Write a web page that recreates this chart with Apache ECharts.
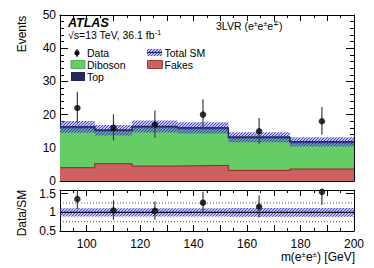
<!DOCTYPE html>
<html><head><meta charset="utf-8">
<script src="https://cdn.jsdelivr.net/npm/echarts@6/dist/echarts.min.js"></script>
<style>html,body{margin:0;padding:0;background:#fff}#c{width:374px;height:268px}</style>
</head><body><div id="c"></div>
<script>
// ---- data ----
const binEdges = [90, 103, 117, 134, 153, 176, 200];
const fakes    = [4.0, 5.2, 4.5, 4.7, 3.2, 3.6];
const diboson  = [11.9, 9.8, 11.5, 10.9, 9.6, 7.8];
const topBkg   = [0.4, 0.3, 0.4, 0.4, 0.4, 0.4];
const smUnc    = [1.8, 1.6, 1.8, 1.7, 1.5, 1.4];
const dataX    = [96.5, 110, 125.5, 143.5, 164.5, 188];
const dataY    = [22, 16, 17, 20, 15, 18];
const dataErrUp   = [4.8, 4.1, 4.2, 4.6, 4.0, 4.3];
const dataErrDown = [4.4, 3.8, 4.0, 4.4, 3.8, 4.1];
const ratioY      = [1.36, 1.05, 1.04, 1.26, 1.15, 1.55];
const ratioErrUp  = [0.29, 0.27, 0.26, 0.29, 0.30, 0.37];
const ratioErrDown= [0.27, 0.25, 0.24, 0.27, 0.29, 0.35];
const ratioUnc    = [0.11, 0.11, 0.11, 0.11, 0.12, 0.12];
const ratioRefLines = [0.75, 1.25];
const xTickLabels = [100, 120, 140, 160, 180, 200];

// ---- derived ----
const cumFakes = fakes.slice();
const cumDib = fakes.map((v, i) => v + diboson[i]);
const total = cumDib.map((v, i) => v + topBkg[i]);
const stepData = vals => binEdges.map((e, i) => [e, vals[Math.min(i, vals.length - 1)]]);

function hatchCanvas() {
  const c = document.createElement('canvas');
  c.width = 3; c.height = 3;
  const g = c.getContext('2d');
  g.fillStyle = 'rgba(110,110,230,0.40)';
  g.fillRect(0, 0, 3, 3);
  g.fillStyle = 'rgba(40,40,200,0.85)';
  // diagonal pixels
  g.fillRect(2, 0, 1, 1); g.fillRect(1, 1, 1, 1); g.fillRect(0, 2, 1, 1);
  return c;
}
const hatch = { image: hatchCanvas(), repeat: 'repeat' };
const FONT = '"Liberation Sans", Arial, sans-serif';
const NAVY = '#26265e', GREEN = '#66cc66', RED = '#cd6161';

function bandRender(params, api) {
  const a = api.coord([api.value(0), api.value(3)]);
  const b = api.coord([api.value(1), api.value(2)]);
  return { type: 'rect', shape: { x: a[0], y: a[1], width: b[0] - a[0], height: b[1] - a[1] }, style: { fill: hatch } };
}
function errRender(params, api) {
  const a = api.coord([api.value(0), api.value(1)]);
  const b = api.coord([api.value(0), api.value(2)]);
  return { type: 'line', shape: { x1: a[0], y1: a[1], x2: b[0], y2: b[1] }, style: { stroke: '#3a3a3a', lineWidth: 1.2 } };
}

const axLine = { show: true, onZero: false, lineStyle: { color: '#000', width: 1 } };
function xAx(grid, pos, labels) {
  return {
    gridIndex: grid, type: 'value', position: pos, min: 90, max: 200, interval: 10,
    axisLine: axLine,
    axisTick: { inside: true, length: 6, lineStyle: { color: '#000' } },
    minorTick: { show: true, splitNumber: 2, length: 3, lineStyle: { color: '#000' } },
    splitLine: { show: false },
    axisLabel: labels ? { show: true, color: '#000', fontSize: 12, fontFamily: FONT, margin: 7,
      formatter: v => xTickLabels.includes(v) ? String(v) : '' } : { show: false }
  };
}
function yAx(grid, pos, min, max, interval, minor, labels, fmt) {
  return {
    gridIndex: grid, type: 'value', position: pos, min: min, max: max, interval: interval,
    axisLine: axLine,
    axisTick: { inside: true, length: 8, lineStyle: { color: '#000' } },
    minorTick: { show: minor > 0, splitNumber: minor || 5, length: 4, lineStyle: { color: '#000' } },
    splitLine: { show: false },
    axisLabel: labels ? { show: true, color: '#000', fontSize: 12, fontFamily: FONT, margin: 4, formatter: fmt, showMaxLabel: true } : { show: false }
  };
}

const chart = echarts.init(document.getElementById('c'), null, { renderer: 'svg' });
const option = {
  animation: false,
  backgroundColor: '#fff',
  textStyle: { fontFamily: FONT },
  grid: [
    { left: 60, width: 294, top: 15, height: 166 },
    { left: 60, width: 294, top: 190, height: 41 }
  ],
  xAxis: [xAx(0, 'bottom', false), xAx(0, 'top', false), xAx(1, 'bottom', true), xAx(1, 'top', false)],
  yAxis: [
    yAx(0, 'left', 0, 50, 10, 5, true, v => String(v)),
    yAx(0, 'right', 0, 50, 10, 5, false),
    yAx(1, 'left', 0.5, 1.6, 0.5, 0, true, v => ({0.5: '0.5', 1: '1', 1.5: '1.5'})[v] || ''),
    yAx(1, 'right', 0.5, 1.6, 0.5, 0, false)
  ],
  series: [
    { name: 'Top', type: 'line', step: 'end', symbol: 'none', xAxisIndex: 0, yAxisIndex: 0,
      data: stepData(total), lineStyle: { color: NAVY, width: 1.2 }, areaStyle: { color: NAVY, opacity: 1 }, z: 2 },
    { name: 'Diboson', type: 'line', step: 'end', symbol: 'none', xAxisIndex: 0, yAxisIndex: 0,
      data: stepData(cumDib), lineStyle: { color: '#3f9f3f', width: 0.8 }, areaStyle: { color: GREEN, opacity: 1 }, z: 3 },
    { name: 'Fakes', type: 'line', step: 'end', symbol: 'none', xAxisIndex: 0, yAxisIndex: 0,
      data: stepData(cumFakes), lineStyle: { color: '#9b1e1e', width: 1 }, areaStyle: { color: RED, opacity: 1 }, z: 4 },
    { name: 'Total SM', type: 'custom', xAxisIndex: 0, yAxisIndex: 0, renderItem: bandRender,
      encode: { x: [0, 1], y: [2, 3] },
      data: binEdges.slice(0, -1).map((e, i) => [e, binEdges[i + 1], total[i] - smUnc[i], total[i] + smUnc[i]]), z: 5 },
    { name: 'TotalLine', type: 'line', step: 'end', symbol: 'none', xAxisIndex: 0, yAxisIndex: 0,
      data: stepData(total), lineStyle: { color: NAVY, width: 1.4 }, z: 6 },
    { name: 'DataErr', type: 'custom', xAxisIndex: 0, yAxisIndex: 0, renderItem: errRender, clip: true,
      encode: { x: 0, y: [1, 2] },
      data: dataX.map((x, i) => [x, dataY[i] - dataErrDown[i], dataY[i] + dataErrUp[i]]), z: 7 },
    { name: 'Data', type: 'scatter', xAxisIndex: 0, yAxisIndex: 0, symbol: 'circle', symbolSize: 6.5,
      itemStyle: { color: '#000' }, data: dataX.map((x, i) => [x, dataY[i]]), z: 8 },

    // ratio panel
    { name: 'RatioBand', type: 'custom', xAxisIndex: 2, yAxisIndex: 2, renderItem: bandRender,
      encode: { x: [0, 1], y: [2, 3] },
      data: binEdges.slice(0, -1).map((e, i) => [e, binEdges[i + 1], 1 - ratioUnc[i], 1 + ratioUnc[i]]), z: 2 },
    ...ratioRefLines.map(r => ({ name: 'ref' + r, type: 'line', symbol: 'none', xAxisIndex: 2, yAxisIndex: 2,
      data: [[90, r], [200, r]], lineStyle: { color: '#555', width: 1, type: [1, 2] }, z: 3 })),
    { name: 'One', type: 'line', symbol: 'none', xAxisIndex: 2, yAxisIndex: 2,
      data: [[90, 1], [200, 1]], lineStyle: { color: '#111', width: 1.2 }, z: 4 },
    { name: 'RatioErr', type: 'custom', xAxisIndex: 2, yAxisIndex: 2, renderItem: errRender, clip: true,
      encode: { x: 0, y: [1, 2] },
      data: dataX.map((x, i) => [x, ratioY[i] - ratioErrDown[i], ratioY[i] + ratioErrUp[i]]), z: 5 },
    { name: 'Ratio', type: 'scatter', xAxisIndex: 2, yAxisIndex: 2, symbol: 'circle', symbolSize: 6.5,
      itemStyle: { color: '#000' }, data: dataX.map((x, i) => [x, ratioY[i]]), z: 6 }
  ],
  graphic: [
    { type: 'text', x: 68, y: 23, style: { text: 'ATLAS', font: 'italic bold 12.5px ' + FONT, fill: '#000', verticalAlign: 'middle' } },
    { type: 'text', x: 68, y: 35, style: { text: '√s=13 TeV, 36.1 fb{sup|-1}', font: '10.5px ' + FONT, fill: '#000', verticalAlign: 'middle',
      rich: { sup: { fontSize: 7, fontFamily: FONT, padding: [0, 0, 5, 0] } } } },
    { type: 'text', x: 216, y: 26, style: { text: '3LVR (e{sup|±}e{sup|±}e{sup|∓})', font: '10.5px ' + FONT, fill: '#000', verticalAlign: 'middle',
      rich: { sup: { fontSize: 7, fontFamily: FONT, padding: [0, 0, 5, 0] } } } },
    { type: 'text', x: 22, y: 34, rotation: Math.PI / 2, style: { text: 'Events', font: '12px ' + FONT, fill: '#000', align: 'center', verticalAlign: 'middle' } },
    { type: 'text', x: 22, y: 213, rotation: Math.PI / 2, style: { text: 'Data/SM', font: '12px ' + FONT, fill: '#000', align: 'center', verticalAlign: 'middle' } },
    { type: 'text', x: 355, y: 257, style: { text: 'm(e{sup|±}e{sup|±}) [GeV]', font: '12px ' + FONT, fill: '#000', align: 'right', verticalAlign: 'middle',
      rich: { sup: { fontSize: 8, fontFamily: FONT, padding: [0, 0, 5, 0] } } } },
    // legend
    { type: 'line', shape: { x1: 77, y1: 49, x2: 77, y2: 57 }, style: { stroke: '#000', lineWidth: 1 } },
    { type: 'circle', shape: { cx: 77, cy: 53, r: 2.6 }, style: { fill: '#000' } },
    { type: 'text', x: 87, y: 53, style: { text: 'Data', font: '10.5px ' + FONT, fill: '#000', verticalAlign: 'middle' } },
    { type: 'rect', shape: { x: 147, y: 49, width: 15, height: 7 }, style: { fill: hatch } },
    { type: 'line', shape: { x1: 147, y1: 52.5, x2: 162, y2: 52.5 }, style: { stroke: NAVY, lineWidth: 1.2 } },
    { type: 'text', x: 164.5, y: 53, style: { text: 'Total SM', font: '10.5px ' + FONT, fill: '#000', verticalAlign: 'middle' } },
    { type: 'rect', shape: { x: 71, y: 60.5, width: 14, height: 8 }, style: { fill: GREEN, stroke: '#3f9f3f', lineWidth: 0.8 } },
    { type: 'text', x: 87, y: 64.5, style: { text: 'Diboson', font: '10.5px ' + FONT, fill: '#000', verticalAlign: 'middle' } },
    { type: 'rect', shape: { x: 147.5, y: 60.5, width: 15, height: 8 }, style: { fill: RED, stroke: '#9b1e1e', lineWidth: 0.8 } },
    { type: 'text', x: 164.5, y: 64.5, style: { text: 'Fakes', font: '10.5px ' + FONT, fill: '#000', verticalAlign: 'middle' } },
    { type: 'rect', shape: { x: 71, y: 72, width: 14, height: 9 }, style: { fill: NAVY } },
    { type: 'text', x: 87, y: 76.5, style: { text: 'Top', font: '10.5px ' + FONT, fill: '#000', verticalAlign: 'middle' } }
  ]
};
chart.setOption(option);
</script>
</body></html>
